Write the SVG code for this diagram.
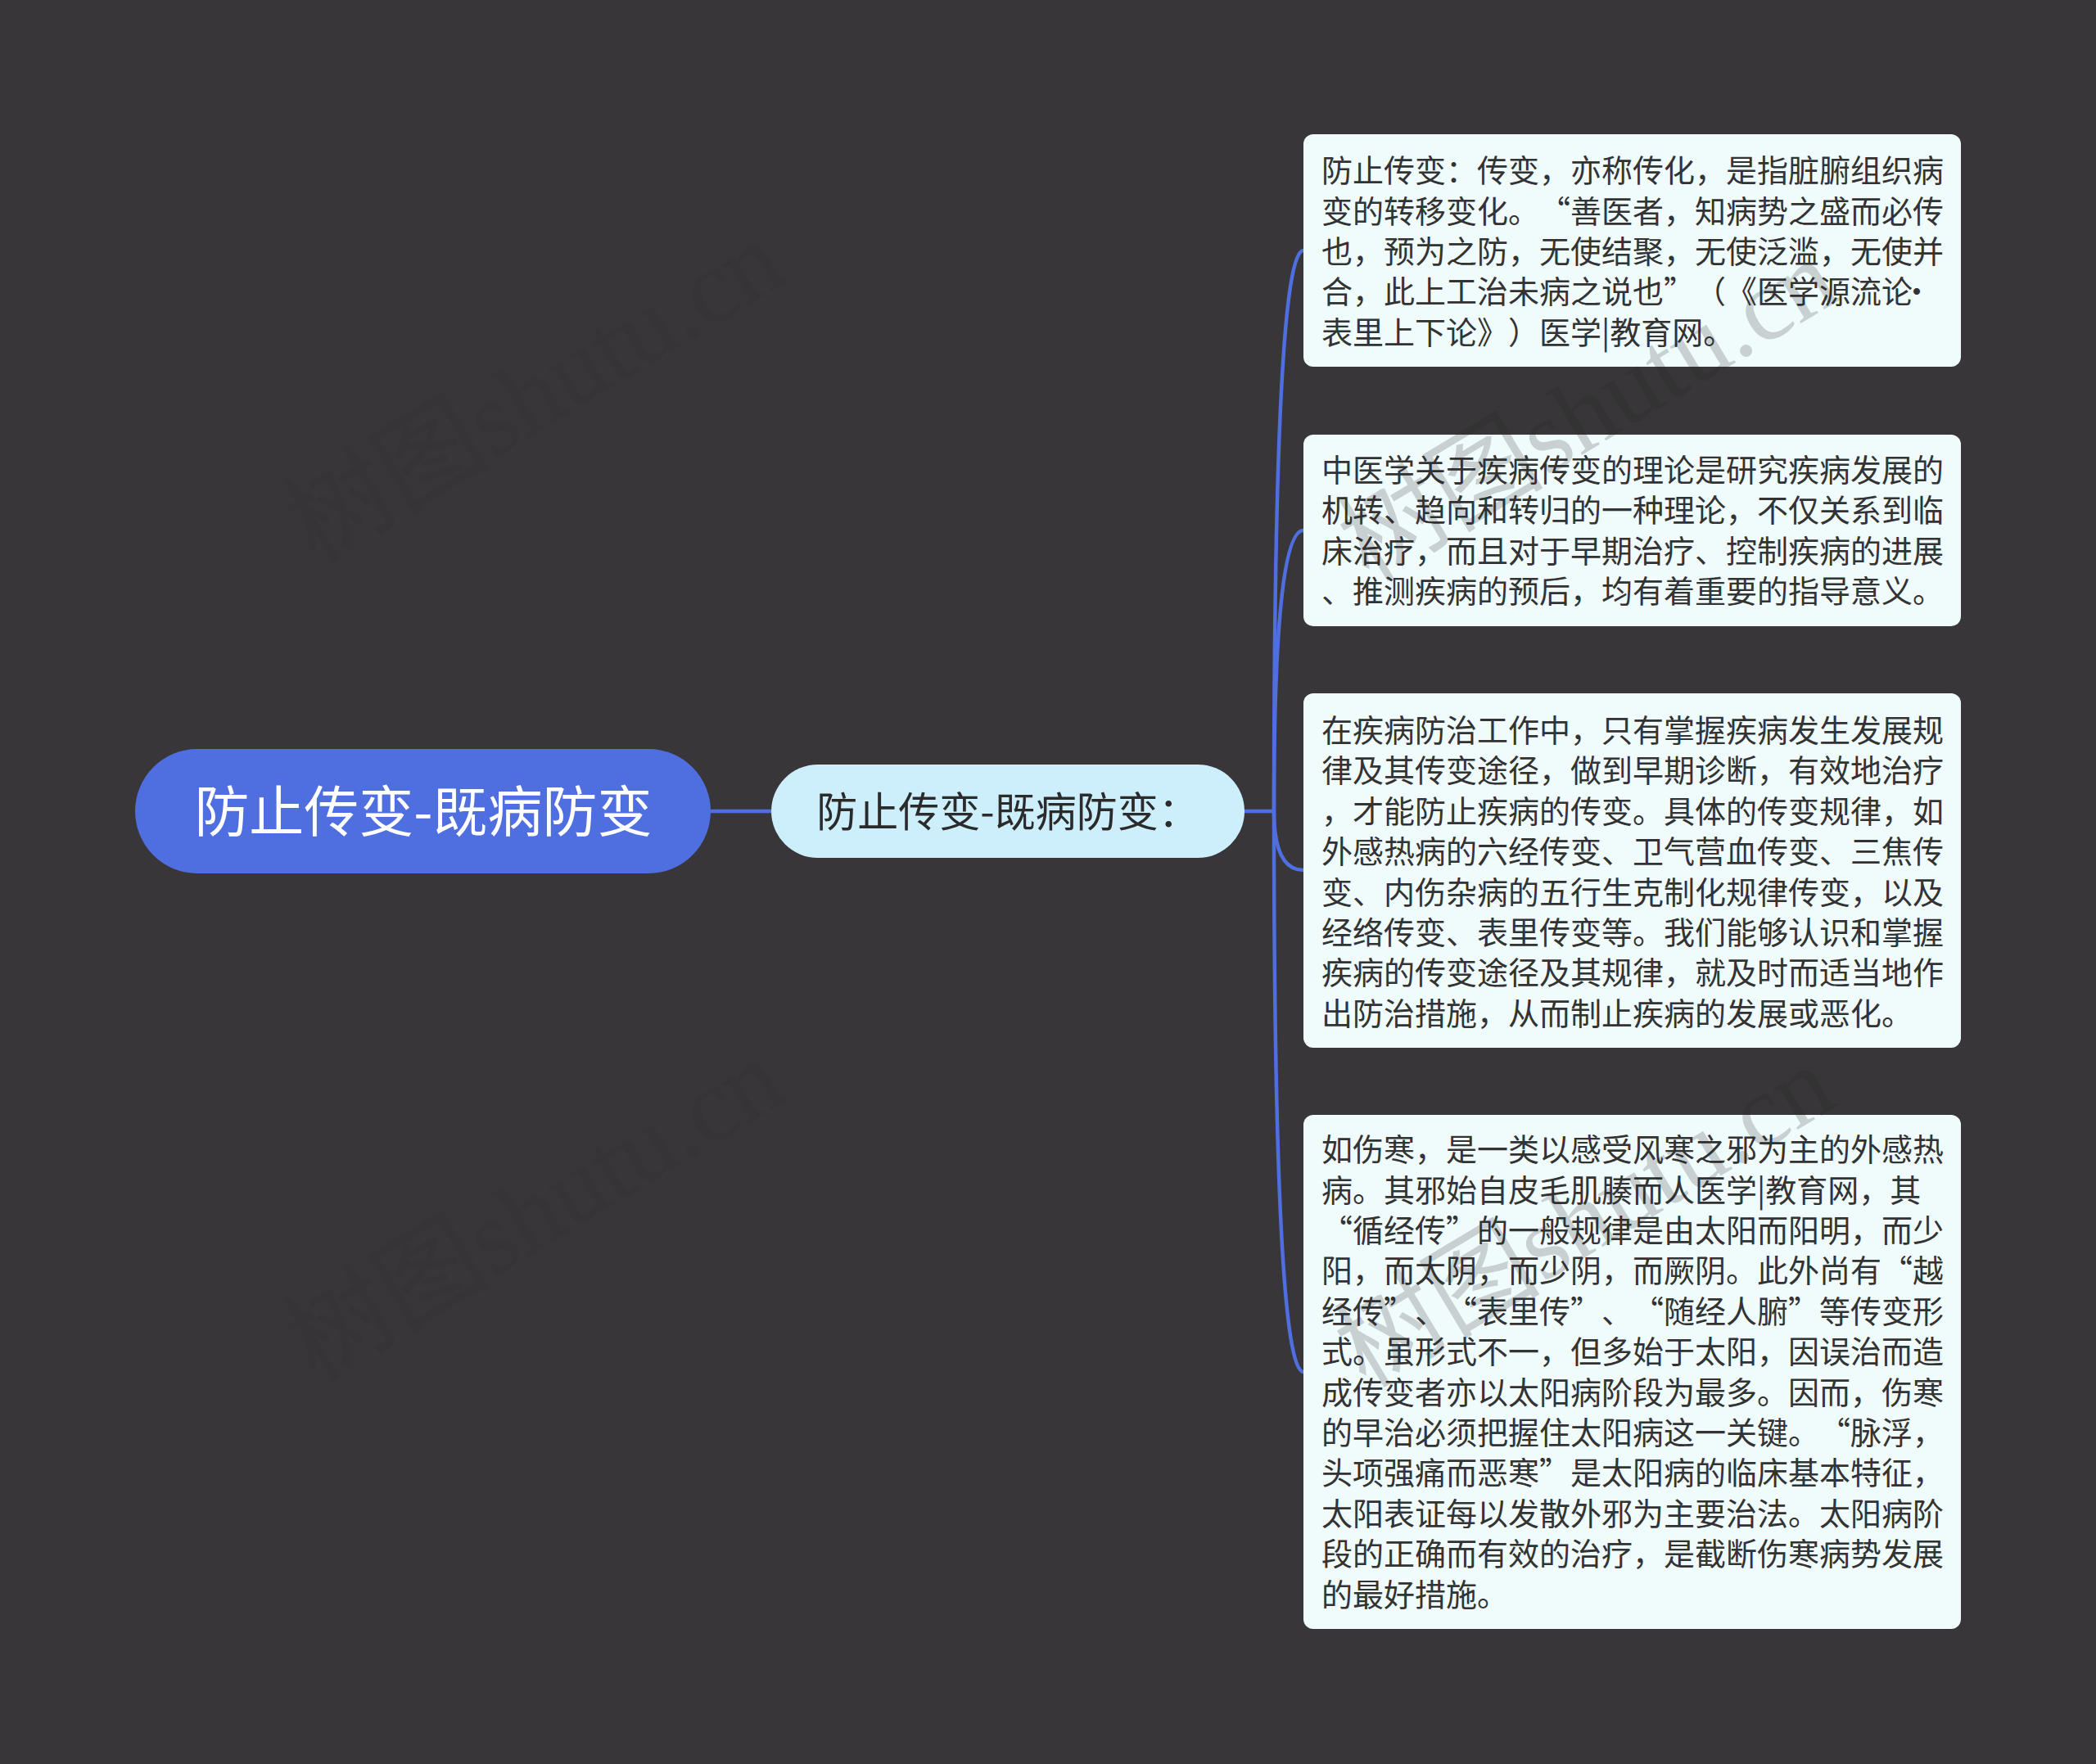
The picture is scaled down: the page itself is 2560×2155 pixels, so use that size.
<svg xmlns="http://www.w3.org/2000/svg" width="2560" height="2155" viewBox="0 0 2560 2155">
<defs>
<style>
.bg{fill:#383638}
.conn{fill:none;stroke:#4f6fe0;stroke-width:4.5;stroke-linecap:round}
.root{fill:#4f6fe0}
.child{fill:#cdeffc}
.leaf{fill:#f0fbfc}
.cjk{font-family:"Noto Sans CJK SC","Noto Sans",sans-serif;text-spacing-trim:space-all}
.rt{font-size:67px;fill:#ffffff}
.ct{font-size:50px;fill:#2b2b2b}
.lt{font-size:38px;fill:#333333}
.wm{font-family:"Liberation Serif","Noto Sans CJK SC",serif;font-size:126px;fill:#282828;fill-opacity:0.2}
.wmd{fill-opacity:0.12}
</style>
</defs>
<rect class="bg" x="0" y="0" width="2560" height="2155"/>

<g id="connectors">
<path class="conn" d="M868,991 L942,991"/>
<path class="conn" d="M1520,991 L1556,991"/>
<path class="conn" d="M1556,991 Q1556,306 1592,306"/>
<path class="conn" d="M1556,991 Q1556,648 1592,648"/>
<path class="conn" d="M1556,991 Q1556,1063 1592,1063"/>
<path class="conn" d="M1556,991 Q1556,1676 1592,1676"/>
</g>

<g id="root">
<rect class="root" x="165" y="915" width="703" height="152" rx="76"/>
<text class="cjk rt" x="517" y="1016" text-anchor="middle">防止传变-既病防变</text>
</g>

<g id="child">
<rect class="child" x="942" y="934" width="578" height="114" rx="57"/>
<text class="cjk ct" x="1231" y="1010" text-anchor="middle">防止传变-既病防变：</text>
</g>

<g id="leaf1">
<rect class="leaf" x="1592" y="164" width="803" height="284" rx="12"/>
<text class="cjk lt">
<tspan x="1614" y="222">防止传变：传变，亦称传化，是指脏腑组织病</tspan>
<tspan x="1614 1652 1690 1728 1766 1804 1842 1880 1918 1956 1994 2032 2070 2108 2146 2184 2222 2260 2298 2336" y="272">变的转移变化。“善医者，知病势之盛而必传</tspan>
<tspan x="1614" y="321">也，预为之防，无使结聚，无使泛滥，无使并</tspan>
<tspan x="1614 1652 1690 1728 1766 1804 1842 1880 1918 1956 1994 2032 2070 2108 2146 2184 2222 2260 2298 2322" y="370">合，此上工治未病之说也”（《医学源流论·</tspan>
<tspan x="1614 1652 1690 1728 1766 1804 1842 1880 1918" y="420">表里上下论》）医学|教育网。</tspan>
</text>
</g>

<g id="leaf2">
<rect class="leaf" x="1592" y="531" width="803" height="234" rx="12"/>
<text class="cjk lt">
<tspan x="1614" y="588">中医学关于疾病传变的理论是研究疾病发展的</tspan>
<tspan x="1614" y="637">机转、趋向和转归的一种理论，不仅关系到临</tspan>
<tspan x="1614" y="687">床治疗，而且对于早期治疗、控制疾病的进展</tspan>
<tspan x="1614" y="736">、推测疾病的预后，均有着重要的指导意义。</tspan>
</text>
</g>

<g id="leaf3">
<rect class="leaf" x="1592" y="847" width="803" height="433" rx="12"/>
<text class="cjk lt">
<tspan x="1614" y="906">在疾病防治工作中，只有掌握疾病发生发展规</tspan>
<tspan x="1614" y="955">律及其传变途径，做到早期诊断，有效地治疗</tspan>
<tspan x="1614" y="1005">，才能防止疾病的传变。具体的传变规律，如</tspan>
<tspan x="1614" y="1054">外感热病的六经传变、卫气营血传变、三焦传</tspan>
<tspan x="1614" y="1104">变、内伤杂病的五行生克制化规律传变，以及</tspan>
<tspan x="1614" y="1153">经络传变、表里传变等。我们能够认识和掌握</tspan>
<tspan x="1614" y="1202">疾病的传变途径及其规律，就及时而适当地作</tspan>
<tspan x="1614" y="1252">出防治措施，从而制止疾病的发展或恶化。</tspan>
</text>
</g>

<g id="leaf4">
<rect class="leaf" x="1592" y="1362" width="803" height="628" rx="12"/>
<text class="cjk lt">
<tspan x="1614" y="1418">如伤寒，是一类以感受风寒之邪为主的外感热</tspan>
<tspan x="1614" y="1468">病。其邪始自皮毛肌腠而人医学|教育网，其</tspan>
<tspan x="1614 1652 1690 1728 1766 1804 1842 1880 1918 1956 1994 2032 2070 2108 2146 2184 2222 2260 2298 2336" y="1517">“循经传”的一般规律是由太阳而阳明，而少</tspan>
<tspan x="1614 1652 1690 1728 1766 1804 1842 1880 1918 1956 1994 2032 2070 2108 2146 2184 2222 2260 2298 2336" y="1566">阳，而太阴，而少阴，而厥阴。此外尚有“越</tspan>
<tspan x="1614 1652 1690 1728 1766 1804 1842 1880 1918 1956 1994 2032 2070 2108 2146 2184 2222 2260 2298 2336" y="1616">经传”、“表里传”、“随经人腑”等传变形</tspan>
<tspan x="1614" y="1665">式。虽形式不一，但多始于太阳，因误治而造</tspan>
<tspan x="1614" y="1715">成传变者亦以太阳病阶段为最多。因而，伤寒</tspan>
<tspan x="1614 1652 1690 1728 1766 1804 1842 1880 1918 1956 1994 2032 2070 2108 2146 2184 2222 2260 2298 2336" y="1764">的早治必须把握住太阳病这一关键。“脉浮，</tspan>
<tspan x="1614 1652 1690 1728 1766 1804 1842 1880 1918 1956 1994 2032 2070 2108 2146 2184 2222 2260 2298 2336" y="1813">头项强痛而恶寒”是太阳病的临床基本特征，</tspan>
<tspan x="1614" y="1863">太阳表证每以发散外邪为主要治法。太阳病阶</tspan>
<tspan x="1614" y="1912">段的正确而有效的治疗，是截断伤寒病势发展</tspan>
<tspan x="1614" y="1962">的最好措施。</tspan>
</text>
</g>

<g id="watermarks">
<text class="wm wmd" x="385" y="690" transform="rotate(-31 385 690)">树图shutu.cn</text>
<text class="wm wmd" x="385" y="1690" transform="rotate(-31 385 1690)">树图shutu.cn</text>
<text class="wm" x="1672" y="712" transform="rotate(-31 1672 712)">树图shutu.cn</text>
<text class="wm" x="1668" y="1697" transform="rotate(-31 1668 1697)">树图shutu.cn</text>
</g>
</svg>
